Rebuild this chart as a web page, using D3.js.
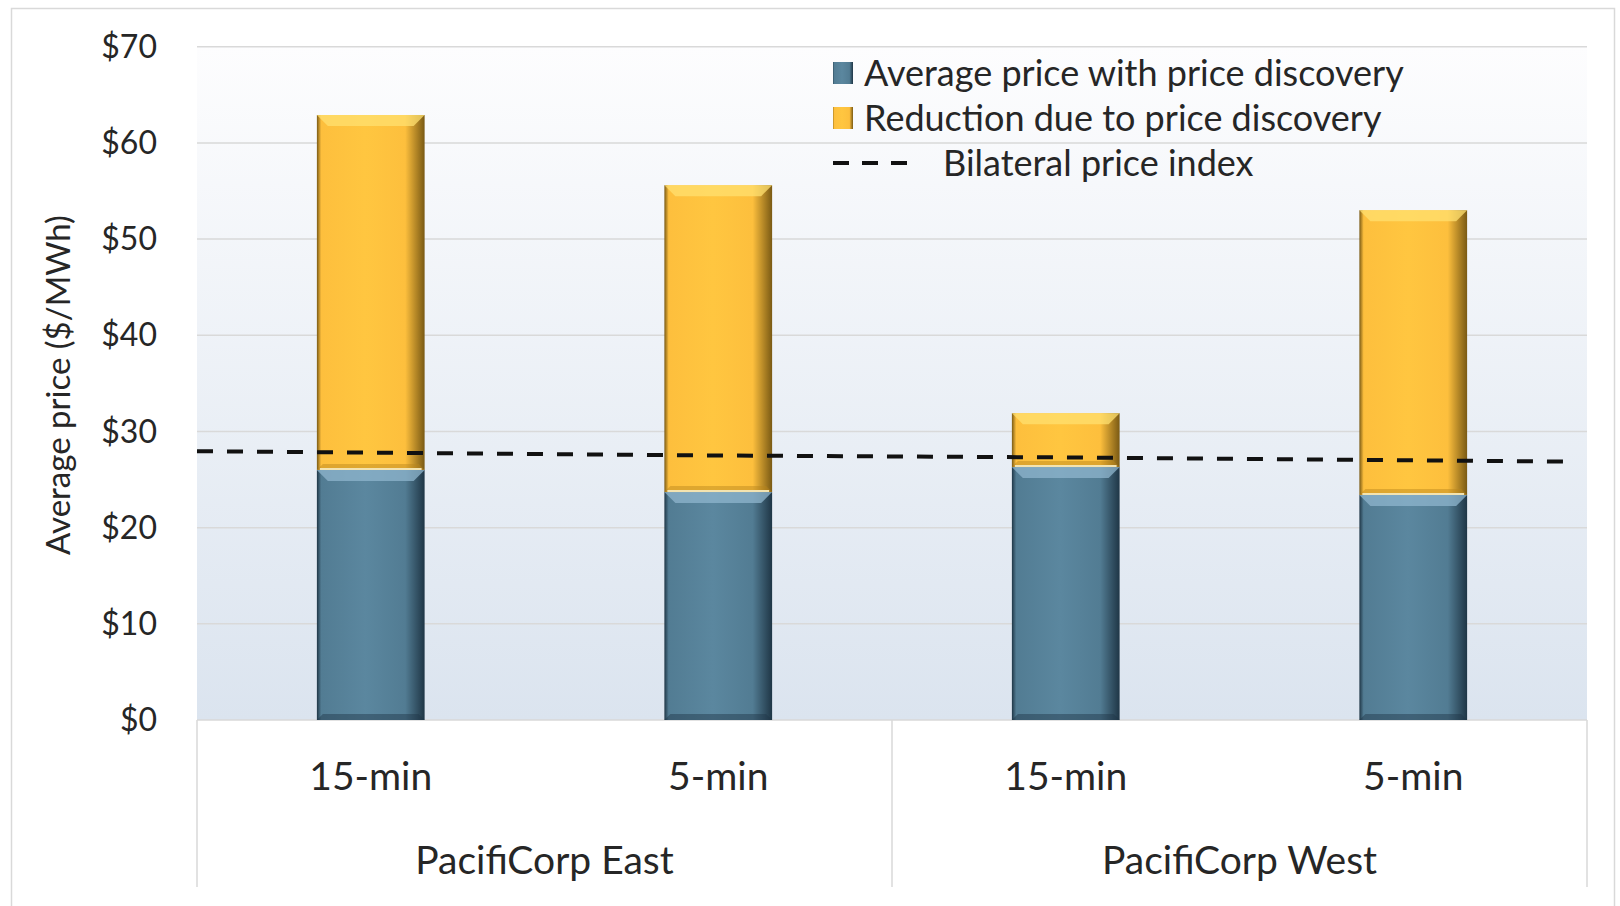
<!DOCTYPE html>
<html>
<head>
<meta charset="utf-8">
<script src="https://cdn.jsdelivr.net/npm/d3@7"></script>
<style>
  body { margin: 0; background: #fff; }
  text { font-family: Lato, "Open Sans", sans-serif; fill: #262626; }
</style>
</head>
<body>
<div id="chart"></div>
<script>
// chart values
var categories = ["15-min", "5-min", "15-min", "5-min"];
var groups = ["PacifiCorp East", "PacifiCorp West"];
var avgPrice = [26.0, 23.7, 26.3, 23.4];
var reduction = [36.9, 31.9, 5.6, 29.6];
var bilateralIndex = [27.8, 27.5, 27.3, 27.0];
var yTicks = [0, 10, 20, 30, 40, 50, 60, 70];
var legendLabels = ["Average price with price discovery", "Reduction due to price discovery", "Bilateral price index"];

var width = 1620, height = 906;
var plotLeft = 197, plotRight = 1587, plotTop = 46.7, plotBottom = 720;

var svg = d3.select("#chart")
  .append("svg")
    .attr("width", width)
    .attr("height", height);

var defs = svg.append("defs");

// plot background gradient
var bg = defs.append("linearGradient")
    .attr("id", "plotbg")
    .attr("x1", 0).attr("y1", 0).attr("x2", 0).attr("y2", 1);
bg.append("stop").attr("offset", "0%").style("stop-color", "#fdfdfe");
bg.append("stop").attr("offset", "100%").style("stop-color", "#dbe4ef");

// bar shading, one per series
var fills = [
  {id: "blue", base: "#527c93", light: "#5b879f", dark: "#1f3646", bevel: "#8fb6cd", foot: "#1f3646"},
  {id: "gold", base: "#fdbf3d", light: "#ffc640", dark: "#7a5a14", bevel: "#ffe070", foot: "#b8861c"}
];
var grads = defs.selectAll("linearGradient.bar")
    .data(fills)
  .enter().append("linearGradient")
    .attr("class", "bar")
    .attr("id", function(d){ return "grad-" + d.id; })
    .attr("x1", 0).attr("y1", 0).attr("x2", 1).attr("y2", 0);
grads.append("stop").attr("offset", "0%").style("stop-color", function(d){ return d.dark; });
grads.append("stop").attr("offset", "4%").style("stop-color", function(d){ return d.base; });
grads.append("stop").attr("offset", "45%").style("stop-color", function(d){ return d.light; });
grads.append("stop").attr("offset", "82%").style("stop-color", function(d){ return d.base; });
grads.append("stop").attr("offset", "100%").style("stop-color", function(d){ return d.dark; });

// outer frame
svg.append("rect")
  .attr("x", 11.5).attr("y", 8.5)
  .attr("width", 1603).attr("height", 905)
  .attr("fill", "none")
  .attr("stroke", "#d9d9d9")
  .attr("stroke-width", 1.5);

var x = d3.scaleBand()
  .domain(d3.range(categories.length))
  .range([plotLeft, plotRight])
  .paddingInner(0.69)
  .paddingOuter(0.345);

var y = d3.scaleLinear()
  .domain([0, 70])
  .range([plotBottom, plotTop]);

svg.append("rect")
  .attr("x", plotLeft).attr("y", plotTop)
  .attr("width", plotRight - plotLeft).attr("height", plotBottom - plotTop)
  .attr("fill", "url(#plotbg)");

// gridlines
svg.append("g").selectAll("line")
  .data(yTicks)
  .enter().append("line")
    .attr("x1", plotLeft).attr("x2", plotRight)
    .attr("y1", function(d){ return y(d); })
    .attr("y2", function(d){ return y(d); })
    .attr("stroke", "#d9d9d9")
    .attr("stroke-width", 1.5);

// y tick labels
svg.append("g").selectAll("text")
  .data(yTicks)
  .enter().append("text")
    .attr("x", 157)
    .attr("y", function(d){ return y(d); })
    .attr("dy", "0.35em")
    .attr("text-anchor", "end")
    .style("font-size", "32px")
    .text(function(d){ return "$" + d; });

svg.append("text")
  .attr("transform", "translate(58," + 385 + ") rotate(-90)")
  .attr("text-anchor", "middle")
  .attr("dy", "0.35em")
  .style("font-size", "33px")
  .text("Average price ($/MWh)");

// stacked bars
var series = [
  {fill: fills[0], lo: function(i){ return 0; }, hi: function(i){ return avgPrice[i]; }},
  {fill: fills[1], lo: function(i){ return avgPrice[i]; }, hi: function(i){ return avgPrice[i] + reduction[i]; }}
];

var bevel = 11;
series.forEach(function(s) {
  var g = svg.append("g");
  var idx = d3.range(categories.length);
  g.selectAll("rect")
    .data(idx)
    .enter().append("rect")
      .attr("x", function(i){ return x(i); })
      .attr("y", function(i){ return y(s.hi(i)); })
      .attr("width", x.bandwidth())
      .attr("height", function(i){ return y(s.lo(i)) - y(s.hi(i)); })
      .attr("fill", "url(#grad-" + s.fill.id + ")");
  // top bevel
  g.selectAll("path.top")
    .data(idx)
    .enter().append("path")
      .attr("class", "top")
      .attr("d", function(i){
        var x0 = x(i), x1 = x(i) + x.bandwidth(), yt = y(s.hi(i));
        return "M" + x0 + "," + yt + "L" + x1 + "," + yt +
          "L" + (x1 - bevel) + "," + (yt + bevel) + "L" + (x0 + bevel) + "," + (yt + bevel) + "Z";
      })
      .attr("fill", s.fill.bevel)
      .attr("opacity", 0.75);
  // bottom bevel
  g.selectAll("path.bot")
    .data(idx)
    .enter().append("path")
      .attr("class", "bot")
      .attr("d", function(i){
        var x0 = x(i), x1 = x(i) + x.bandwidth(), yb = y(s.lo(i));
        return "M" + x0 + "," + yb + "L" + x1 + "," + yb +
          "L" + (x1 - 6) + "," + (yb - 6) + "L" + (x0 + 6) + "," + (yb - 6) + "Z";
      })
      .attr("fill", s.fill.foot)
      .attr("opacity", 0.45);
});

// thin light seam between the two stacked parts
svg.append("g").selectAll("line")
  .data(avgPrice)
  .enter().append("line")
    .attr("x1", function(d, i){ return x(i) + 3; })
    .attr("x2", function(d, i){ return x(i) + x.bandwidth() - 3; })
    .attr("y1", function(d){ return y(d) - 1; })
    .attr("y2", function(d){ return y(d) - 1; })
    .attr("stroke", "#f3e3b0")
    .attr("stroke-width", 2);

// bilateral price index line, extended to the plot edges
var pts = bilateralIndex.map(function(v, i){ return [x(i) + x.bandwidth() / 2, y(v)]; });
var step = x.step();
var first = pts[0], second = pts[1];
var last = pts[pts.length - 1], prev = pts[pts.length - 2];
var startPt = [plotLeft, first[1] - (second[1] - first[1]) * (first[0] - plotLeft) / step];
var endX = plotRight - 18;
var endPt = [endX, last[1] + (last[1] - prev[1]) * (endX - last[0]) / step];
svg.append("path")
  .attr("d", d3.line()([startPt].concat(pts, [endPt])))
  .attr("fill", "none")
  .attr("stroke", "#111")
  .attr("stroke-width", 4)
  .attr("stroke-dasharray", "16,14");

// category axis
svg.append("g").selectAll("line")
  .data([plotLeft, (plotLeft + plotRight) / 2, plotRight])
  .enter().append("line")
    .attr("x1", function(d){ return d; }).attr("x2", function(d){ return d; })
    .attr("y1", plotBottom).attr("y2", 887)
    .attr("stroke", "#d9d9d9")
    .attr("stroke-width", 1.5);

svg.append("g").selectAll("text")
  .data(categories)
  .enter().append("text")
    .attr("x", function(d, i){ return x(i) + x.bandwidth() / 2; })
    .attr("y", 776)
    .attr("dy", "0.35em")
    .attr("text-anchor", "middle")
    .style("font-size", "39px")
    .text(function(d){ return d; });

svg.append("g").selectAll("text")
  .data(groups)
  .enter().append("text")
    .attr("x", function(d, i){ return plotLeft + (plotRight - plotLeft) / 4 * (2 * i + 1); })
    .attr("y", 860)
    .attr("dy", "0.35em")
    .attr("text-anchor", "middle")
    .style("font-size", "39px")
    .text(function(d){ return d; });

// legend
var legend = svg.append("g");
var rowY = [73, 118, 163];
legend.selectAll("rect")
  .data([fills[0], fills[1]])
  .enter().append("rect")
    .attr("x", 833)
    .attr("y", function(d, i){ return rowY[i] - 11; })
    .attr("width", 20).attr("height", 22)
    .attr("fill", function(d){ return "url(#grad-" + d.id + ")"; });
legend.append("line")
  .attr("x1", 833).attr("x2", 907)
  .attr("y1", rowY[2]).attr("y2", rowY[2])
  .attr("stroke", "#111")
  .attr("stroke-width", 4)
  .attr("stroke-dasharray", "16,13");
legend.selectAll("text")
  .data(legendLabels)
  .enter().append("text")
    .attr("x", function(d, i){ return i < 2 ? 864 : 943; })
    .attr("y", function(d, i){ return rowY[i]; })
    .attr("dy", "0.35em")
    .style("font-size", "36px")
    .text(function(d){ return d; });
</script>
</body>
</html>
